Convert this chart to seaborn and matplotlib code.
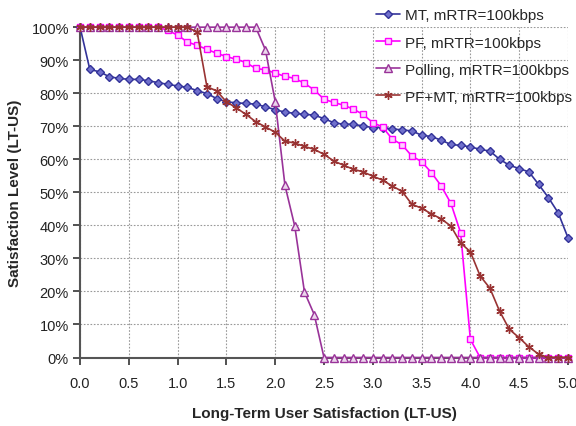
import numpy as np
import pandas as pd
import matplotlib
matplotlib.use("Agg")
import matplotlib.pyplot as plt
import seaborn as sns
from matplotlib.ticker import FuncFormatter, MultipleLocator

# Long-term user satisfaction levels (x axis), 0.0 .. 5.0 in steps of 0.1
lt_us = [round(0.1 * i, 1) for i in range(51)]

mt = [100, 87.2, 86.5, 85.0, 84.5, 84.2, 84.2, 83.8, 83.2, 82.7,
      82.2, 81.8, 80.8, 79.9, 78.4, 77.4, 77.1, 76.9, 76.7, 75.9,
      75.0, 74.3, 73.9, 73.6, 73.4, 72.3, 71.1, 70.6, 70.6, 70.1,
      69.6, 69.6, 69.2, 68.9, 68.6, 67.3, 66.9, 65.8, 64.5, 64.2,
      63.8, 63.0, 62.5, 60.0, 58.2, 57.2, 56.2, 52.4, 48.4, 43.8,
      36.3]

pf = [100, 100, 100, 100, 100, 100, 100, 100, 100, 99.0,
      97.6, 95.5, 94.5, 93.3, 92.1, 91.1, 90.3, 89.3, 87.5, 87.1,
      86.1, 85.1, 84.5, 83.0, 81.0, 78.2, 77.2, 76.4, 75.2, 73.6,
      71.1, 69.8, 66.1, 64.4, 61.0, 59.3, 56.0, 52.0, 46.7, 37.8,
      5.5, 0, 0, 0, 0, 0, 0, 0, 0, 0,
      0]

polling = [100, 100, 100, 100, 100, 100, 100, 100, 100, 100,
           100, 100, 100, 100, 100, 100, 100, 100, 100, 93.1,
           77.5, 52.1, 39.8, 19.8, 13.0, 0, 0, 0, 0, 0,
           0, 0, 0, 0, 0, 0, 0, 0, 0, 0,
           0, 0, 0, 0, 0, 0, 0, 0, 0, 0,
           0]

pf_mt = [100, 100, 100, 100, 100, 100, 100, 100, 100, 100,
         100, 100, 98.5, 82.0, 80.7, 77.4, 75.6, 73.6, 71.4, 69.8,
         68.2, 65.5, 64.9, 63.9, 63.0, 61.5, 59.5, 58.2, 57.0, 56.2,
         54.9, 53.7, 51.9, 50.3, 46.4, 45.2, 43.5, 42.0, 39.8, 34.7,
         32.0, 24.7, 21.0, 14.0, 8.5, 6.0, 3.2, 1.0, 0, 0,
         0]

series_names = ["MT, mRTR=100kbps", "PF, mRTR=100kbps",
                "Polling, mRTR=100kbps", "PF+MT, mRTR=100kbps"]
series_values = [mt, pf, polling, pf_mt]

x_ticks = [0.0, 0.5, 1.0, 1.5, 2.0, 2.5, 3.0, 3.5, 4.0, 4.5, 5.0]

df = pd.DataFrame({
    "LT-US": lt_us * len(series_names),
    "level": [v for vals in series_values for v in vals],
    "scheme": [n for n in series_names for _ in lt_us],
})

sns.set_theme(style="white")
plt.rcParams["font.family"] = ["Liberation Sans", "DejaVu Sans"]

fig = plt.figure(figsize=(5.76, 4.27), dpi=100)
ax = fig.add_axes([0.139, 0.1604, 0.847, 0.7736])

styles = {
    "MT, mRTR=100kbps": dict(color="#333399", marker="D", markersize=4,
                             markerfacecolor="#7070cc", markeredgecolor="#333399"),
    "PF, mRTR=100kbps": dict(color="#ff00ff", marker="s", markersize=5,
                             markerfacecolor="#ffd0ff", markeredgecolor="#ff00ff"),
    "Polling, mRTR=100kbps": dict(color="#993399", marker="^", markersize=5.5,
                                  markerfacecolor="#ecd6ec", markeredgecolor="#993399"),
    "PF+MT, mRTR=100kbps": dict(color="#993333", marker=(6, 2, 0), markersize=6,
                                markerfacecolor="#993333", markeredgecolor="#993333"),
}

for name in series_names:
    st = styles[name]
    sns.lineplot(data=df[df["scheme"] == name], x="LT-US", y="level", ax=ax,
                 color=st["color"], marker=st["marker"], markersize=st["markersize"],
                 markerfacecolor=st["markerfacecolor"],
                 markeredgecolor=st["markeredgecolor"], markeredgewidth=1.0,
                 linewidth=1.2, label=name, clip_on=False, zorder=3)

handles, labels = ax.get_legend_handles_labels()
if ax.get_legend() is not None:
    ax.get_legend().remove()

ax.set_xlim(0, 5)
ax.set_ylim(0, 100)
ax.set_xticks(x_ticks)
ax.xaxis.set_major_formatter(FuncFormatter(lambda v, p: f"{v:.1f}"))
ax.yaxis.set_major_locator(MultipleLocator(10))
ax.yaxis.set_major_formatter(FuncFormatter(lambda v, p: f"{int(round(v))}%"))

ax.grid(True, color="#999999", linestyle=(0, (1.5, 1.5)), linewidth=0.8)
for s in ["top", "right"]:
    ax.spines[s].set_visible(False)
for s in ["left", "bottom"]:
    ax.spines[s].set_color("#555555")
    ax.spines[s].set_linewidth(1.5)
ax.tick_params(axis="both", which="major", direction="out", length=5,
               width=1.2, color="#333333", labelsize=10.5, labelcolor="#222222",
               left=True, bottom=True)
ax.tick_params(axis="x", pad=8)
ax.tick_params(axis="y", pad=3)

ax.set_xlabel("Long-Term User Satisfaction (LT-US)", fontsize=11,
              fontweight="bold", labelpad=12)
ax.set_ylabel("Satisfaction Level (LT-US)", fontsize=11, fontweight="bold",
              labelpad=7)

fig.legend(handles, labels, loc="upper left",
           bbox_to_anchor=(0.652, 0.978), frameon=False, fontsize=11,
           handlelength=1.6, handletextpad=0.3, labelspacing=0.86,
           borderpad=0, borderaxespad=0)

fig.savefig("out.png", dpi=100)
